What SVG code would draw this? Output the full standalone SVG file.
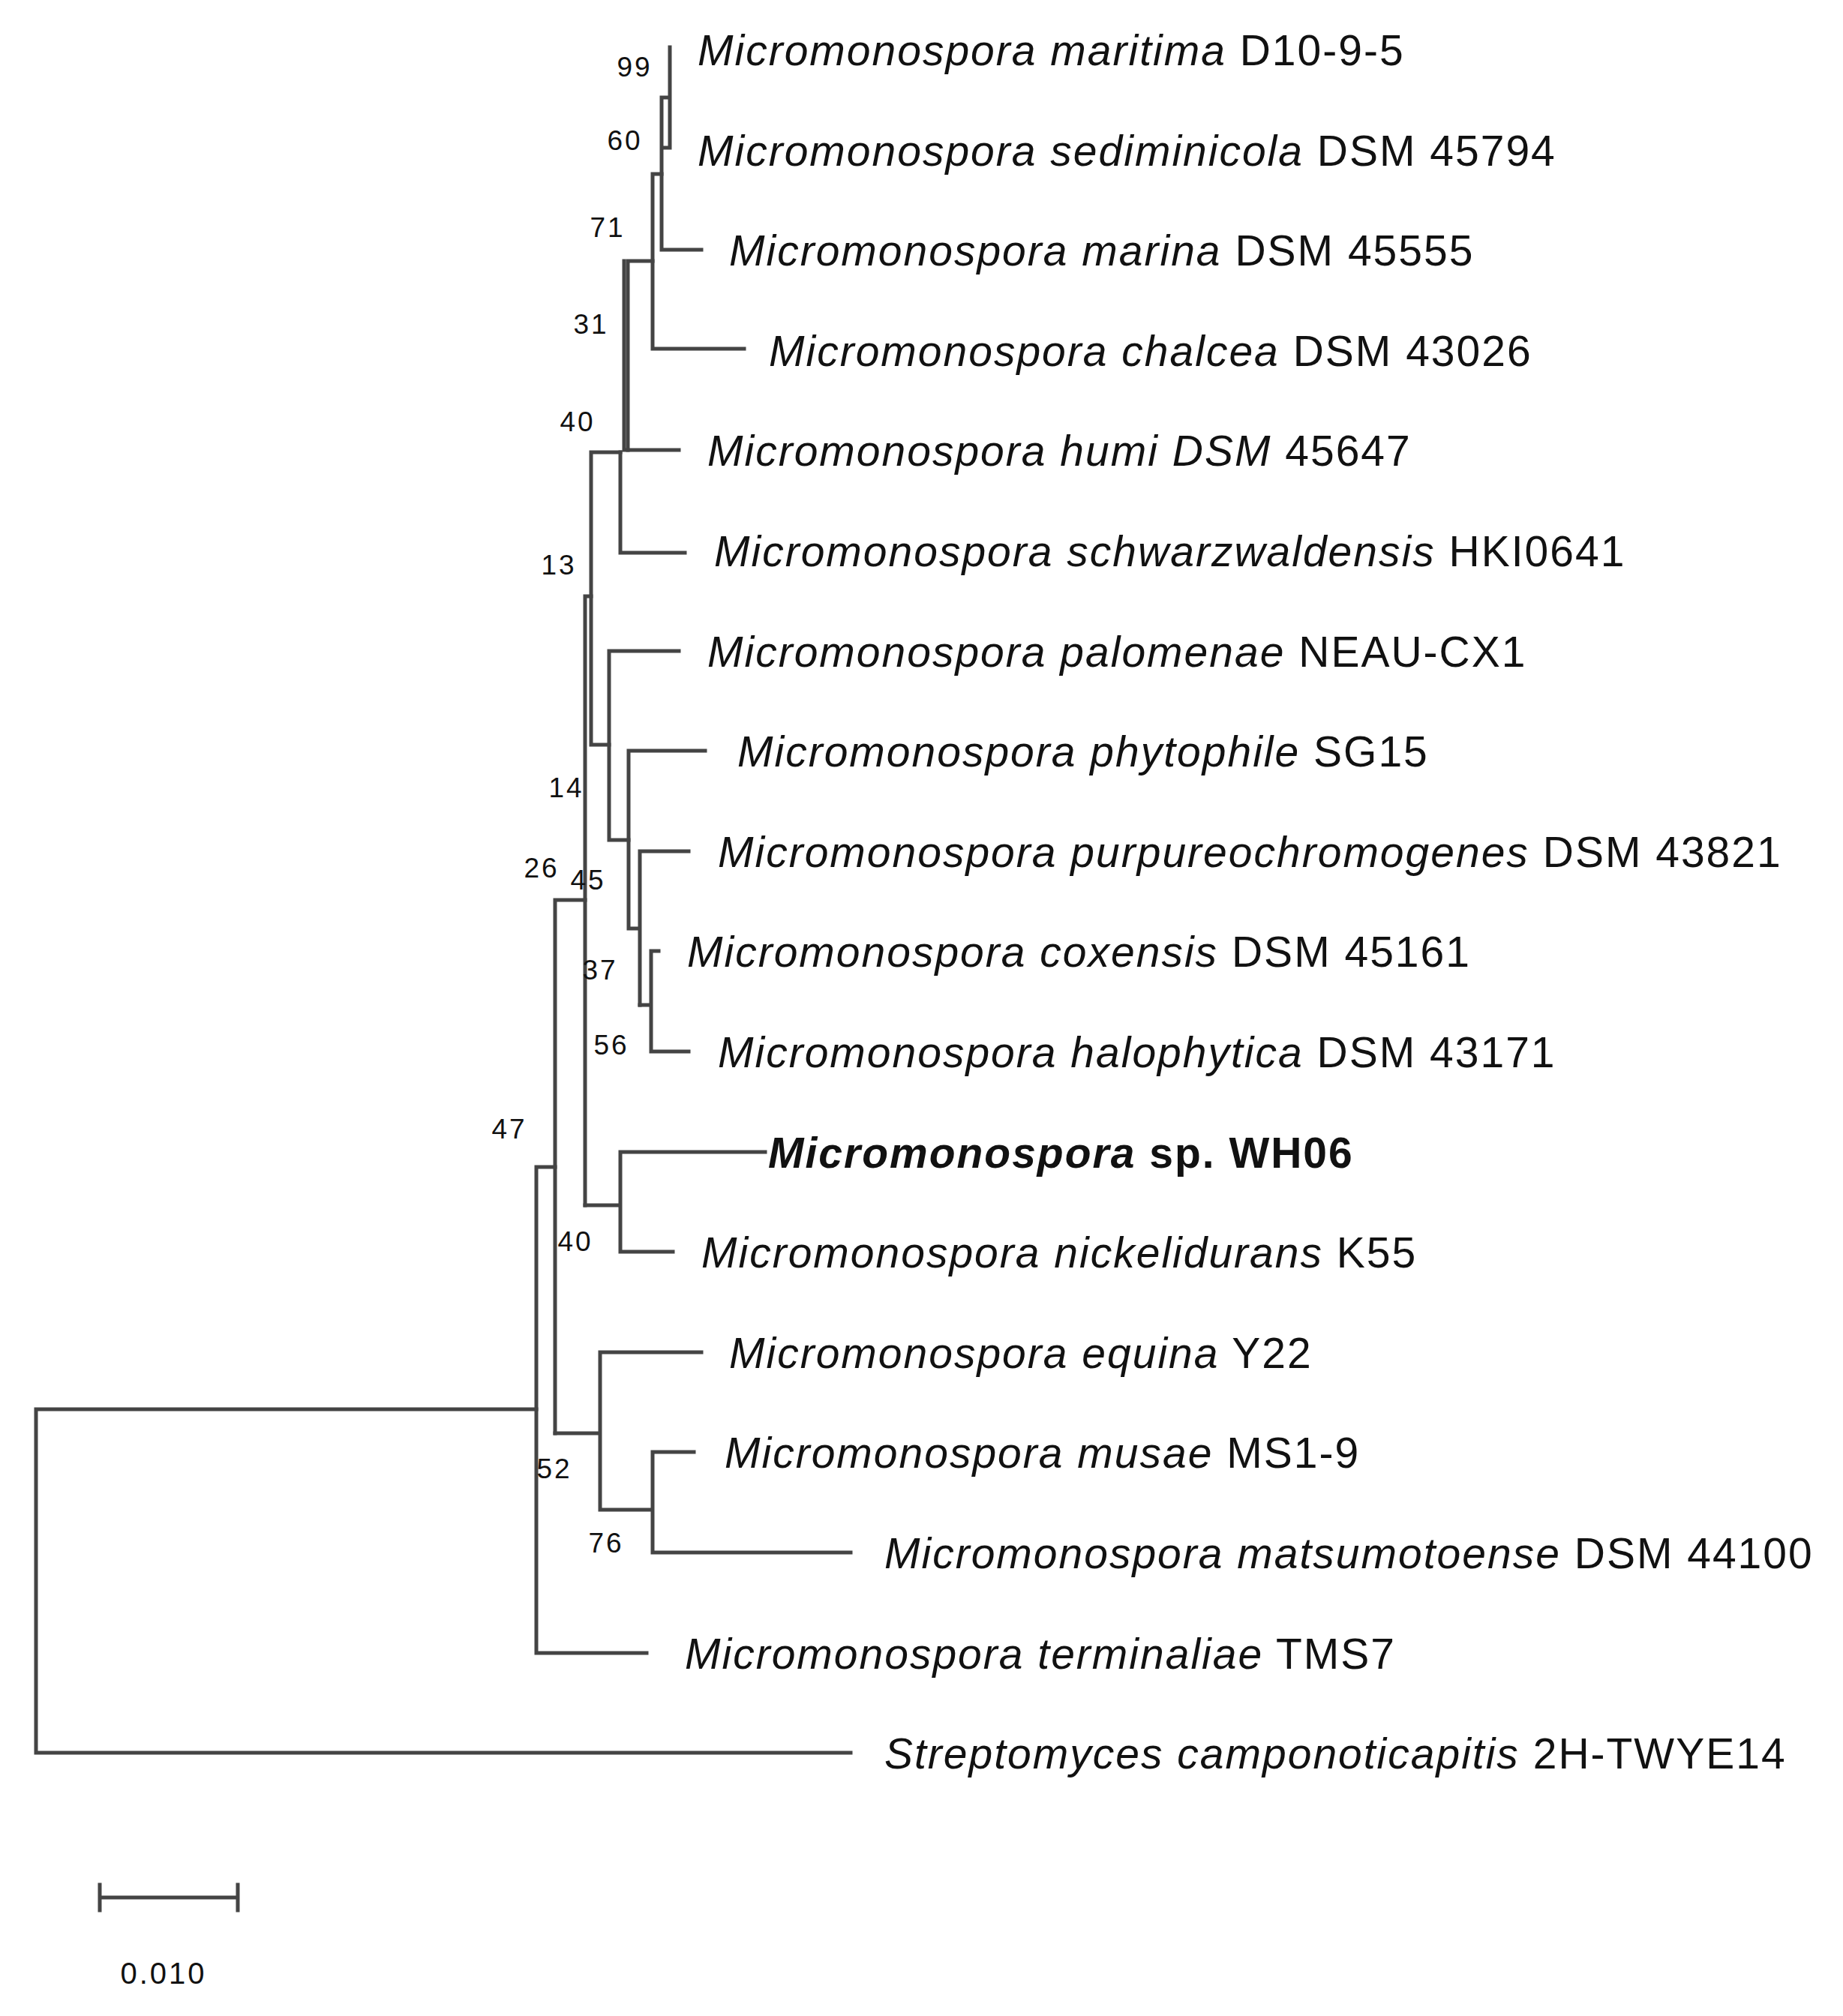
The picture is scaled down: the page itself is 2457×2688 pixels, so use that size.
<svg xmlns="http://www.w3.org/2000/svg" width="2457" height="2688" viewBox="0 0 2457 2688">
<style>
.t{font-family:"Liberation Sans",Arial,sans-serif;font-size:57px;fill:#111;letter-spacing:2px}
.i{font-style:italic}
.b{font-family:"Liberation Sans",Arial,sans-serif;font-size:37px;fill:#111;text-anchor:middle;letter-spacing:3px}
.c path{fill:none;stroke:#444;stroke-width:5;stroke-linecap:square}
</style>
<rect width="2457" height="2688" fill="#fff"/>
<g id="connectors" class="c">
<path d="M893 63V197M882 130H893M882 197H893M882 130V333H935"/>
<path d="M870 232H882M870 232V465H992"/>
<path d="M837 348H870M837 348V600"/>
<path d="M832 348V600H905M827 603V737H913"/>
<path d="M788 603H827M788 603V993H812"/>
<path d="M812 868H905M812 868V1120H838"/>
<path d="M838 1001V1238M838 1001H940M853 1135H918M853 1135V1340M838 1238H853"/>
<path d="M868 1268V1402H918M868 1268H878M853 1340H868"/>
<path d="M780 795H788M780 795V1607"/>
<path d="M780 1607H827M827 1536V1669M827 1536H1020M827 1669H897"/>
<path d="M740 1200H780M740 1200V1911"/>
<path d="M715 1556H740M715 1556V2204H862"/>
<path d="M740 1911H800M800 1803V2013M800 1803H935M800 2013H870M870 1936V2070M870 1936H925M870 2070H1134"/>
<path d="M48 1879H715M48 1879V2337H1134"/>
<path d="M133 2530H317M133 2513V2547M317 2513V2547"/>
</g>
<g id="leaves">
<text class="t" x="930" y="87"><tspan class="i">Micromonospora maritima</tspan> D10-9-5</text>
<text class="t" x="930" y="221"><tspan class="i">Micromonospora sediminicola</tspan> DSM 45794</text>
<text class="t" x="972" y="354"><tspan class="i">Micromonospora marina</tspan> DSM 45555</text>
<text class="t" x="1025" y="488"><tspan class="i">Micromonospora chalcea</tspan> DSM 43026</text>
<text class="t" x="943" y="621"><tspan class="i">Micromonospora humi DSM</tspan> 45647</text>
<text class="t" x="952" y="755"><tspan class="i">Micromonospora schwarzwaldensis</tspan> HKI0641</text>
<text class="t" x="943" y="889"><tspan class="i">Micromonospora palomenae</tspan> NEAU-CX1</text>
<text class="t" x="983" y="1022"><tspan class="i">Micromonospora phytophile</tspan> SG15</text>
<text class="t" x="957" y="1156"><tspan class="i">Micromonospora purpureochromogenes</tspan> DSM 43821</text>
<text class="t" x="916" y="1289"><tspan class="i">Micromonospora coxensis</tspan> DSM 45161</text>
<text class="t" x="957" y="1423"><tspan class="i">Micromonospora halophytica</tspan> DSM 43171</text>
<text class="t" x="1024" y="1557" font-weight="bold"><tspan class="i">Micromonospora</tspan> sp. WH06</text>
<text class="t" x="935" y="1690"><tspan class="i">Micromonospora nickelidurans</tspan> K55</text>
<text class="t" x="972" y="1824"><tspan class="i">Micromonospora equina</tspan> Y22</text>
<text class="t" x="966" y="1957"><tspan class="i">Micromonospora musae</tspan> MS1-9</text>
<text class="t" x="1179" y="2091"><tspan class="i">Micromonospora matsumotoense</tspan> DSM 44100</text>
<text class="t" x="913" y="2225"><tspan class="i">Micromonospora terminaliae</tspan> TMS7</text>
<text class="t" x="1179" y="2358"><tspan class="i">Streptomyces camponoticapitis</tspan> 2H-TWYE14</text>
</g>
<g id="bootstrap">
<text class="b" x="846" y="102">99</text>
<text class="b" x="833" y="200">60</text>
<text class="b" x="810" y="316">71</text>
<text class="b" x="788" y="445">31</text>
<text class="b" x="770" y="575">40</text>
<text class="b" x="745" y="766">13</text>
<text class="b" x="755" y="1063">14</text>
<text class="b" x="722" y="1170">26</text>
<text class="b" x="784" y="1186">45</text>
<text class="b" x="800" y="1306">37</text>
<text class="b" x="815" y="1406">56</text>
<text class="b" x="679" y="1518">47</text>
<text class="b" x="767" y="1668">40</text>
<text class="b" x="739" y="1971">52</text>
<text class="b" x="808" y="2070">76</text>
</g>
<g id="scale"><text class="b" x="218" y="2645" style="font-size:40px">0.010</text></g>
</svg>
